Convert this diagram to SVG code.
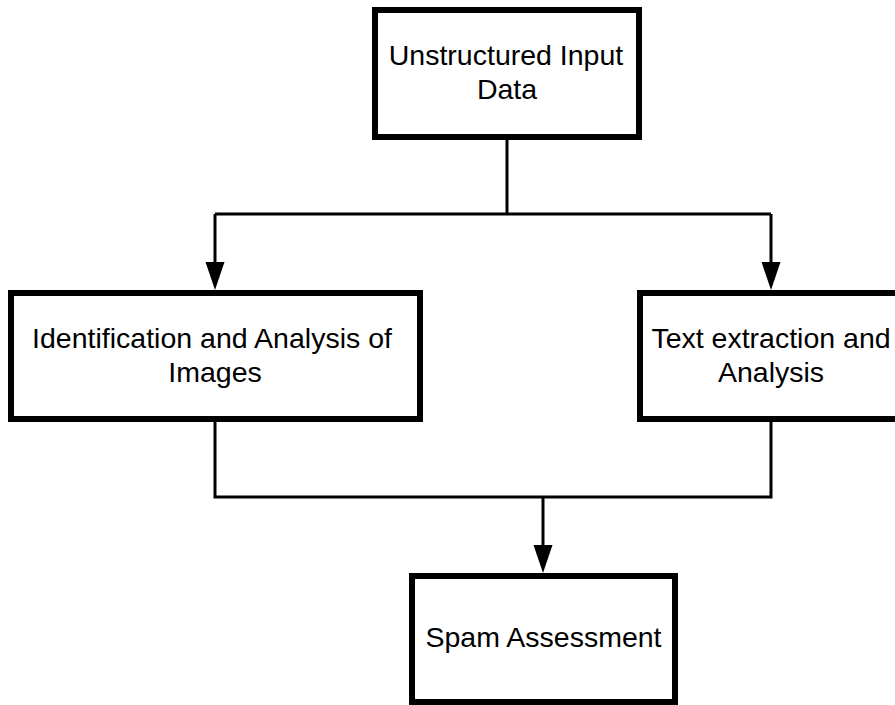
<svg xmlns="http://www.w3.org/2000/svg" width="895" height="705" viewBox="0 0 895 705">
<style>
.box{fill:#fff;stroke:#000;stroke-width:6}
.lbl{font-family:"Liberation Sans",Arial,sans-serif;font-size:28.5px;fill:#000;text-anchor:middle}
.conn{fill:none;stroke:#000;stroke-width:3}
.head{fill:#000}
</style>
<rect width="895" height="705" fill="#fff"/>
<g id="connectors">
<path class="conn" d="M507,137 V214"/>
<path class="conn" d="M215,214 H771"/>
<path class="conn" d="M215,214 V262"/>
<path class="head" d="M205.5,262 H224.5 L215,290 Z"/>
<path class="conn" d="M771,214 V262"/>
<path class="head" d="M761.5,262 H780.5 L771,290 Z"/>
<path class="conn" d="M215,419 V497 H771 V419"/>
<path class="conn" d="M543,497 V545"/>
<path class="head" d="M533.5,545 H552.5 L543,573 Z"/>
</g>
<g id="unstructured">
<rect class="box" x="375" y="10" width="264" height="127"/>
<text class="lbl" x="506" y="65">Unstructured Input</text>
<text class="lbl" x="507" y="99">Data</text>
</g>
<g id="images">
<rect class="box" x="11" y="293" width="409" height="126"/>
<text class="lbl" x="212" y="348" textLength="360" lengthAdjust="spacing">Identification and Analysis of</text>
<text class="lbl" x="215" y="382">Images</text>
</g>
<g id="text">
<rect class="box" x="640" y="293" width="263" height="126"/>
<text class="lbl" x="771" y="348">Text extraction and</text>
<text class="lbl" x="771" y="382">Analysis</text>
</g>
<g id="spam">
<rect class="box" x="412" y="576" width="263" height="126"/>
<text class="lbl" x="543.5" y="647">Spam Assessment</text>
</g>
</svg>
